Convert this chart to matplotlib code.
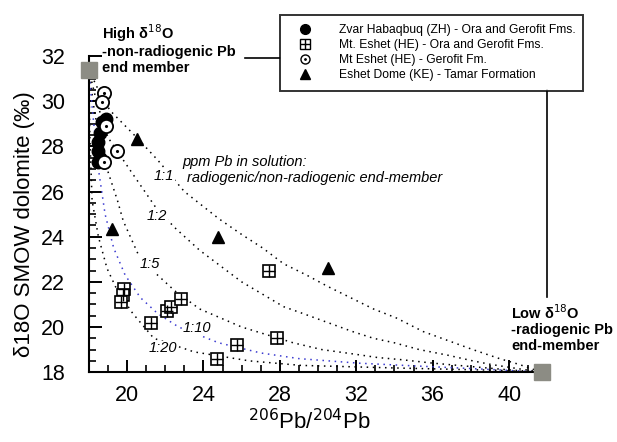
import numpy as np
import matplotlib
matplotlib.use('Agg')
import matplotlib.pyplot as plt
from matplotlib.lines import Line2D
from matplotlib.ticker import MultipleLocator

plt.rcParams['font.family'] = ['Liberation Sans', 'DejaVu Sans']

# samples: (206Pb/204Pb, d18O)
zh_x = [18.9, 18.7, 18.6, 18.5, 18.5, 18.6, 18.5]
zh_y = [29.2, 29.1, 28.6, 28.2, 27.8, 27.5, 27.3]

he_ora_x = [19.85, 19.8, 19.7, 21.25, 22.1, 22.3, 22.8, 24.7, 25.75, 27.45, 27.85]
he_ora_y = [21.7, 21.4, 21.1, 20.2, 20.7, 20.9, 21.25, 18.6, 19.2, 22.5, 19.5]

he_ger_x = [18.8, 18.7, 18.9, 19.5, 18.8]
he_ger_y = [30.35, 29.95, 28.9, 27.8, 27.3]

ke_x = [20.5, 19.2, 24.75, 30.5]
ke_y = [28.35, 24.35, 24.0, 22.6]

# end members
end_x = [18.0, 41.7]
end_y = [31.4, 18.0]

# mixing curves
c11_x = [18.0, 18.5, 19.1, 20.5, 21.6, 23.0, 24.8, 26.0, 27.1, 28.2, 29.4, 30.5, 31.7,
         32.9, 34.1, 35.5, 36.8, 38.1, 39.5, 40.5, 41.7]
c11_y = [31.4, 30.5, 29.6, 28.4, 27.4, 26.0, 24.8, 24.1, 23.5, 22.8, 22.3, 21.8, 21.3,
         20.8, 20.4, 19.8, 19.4, 19.0, 18.6, 18.35, 18.0]

c12_x = [18.0, 18.4, 19.0, 20.2, 21.5, 22.5, 23.8, 26.0, 27.0, 28.2, 29.2, 30.5, 31.8,
         32.9, 34.0, 35.3, 36.8, 38.1, 39.0, 40.5, 41.7]
c12_y = [31.4, 30.0, 28.4, 26.9, 25.3, 24.4, 23.4, 22.0, 21.5, 20.9, 20.6, 20.2, 19.8,
         19.5, 19.3, 19.0, 18.75, 18.5, 18.35, 18.15, 18.0]

c15_x = [18.0, 18.3, 18.8, 19.5, 19.8, 20.7, 21.6, 22.5, 23.8, 26.0, 28.7, 30.2, 31.9,
         33.1, 34.4, 36.0, 38.0, 40.0, 41.7]
c15_y = [31.4, 29.5, 27.4, 25.6, 24.7, 23.0, 22.3, 21.6, 20.8, 20.0, 19.3, 19.0, 18.8,
         18.65, 18.55, 18.4, 18.25, 18.1, 18.0]

c110_x = [18.0, 18.2, 18.5, 18.85, 19.3, 19.9, 20.7, 21.6, 22.7, 24.8, 27.0, 29.0, 32.1,
          34.5, 37.0, 39.5, 41.7]
c110_y = [31.4, 29.5, 27.0, 25.0, 23.5, 22.3, 21.3, 20.6, 20.0, 19.3, 18.85, 18.6, 18.4,
          18.3, 18.2, 18.1, 18.0]

c120_x = [18.0, 18.05, 18.17, 18.5, 18.95, 19.5, 20.3, 21.4, 23.5, 26.4, 29.1, 34.3,
          39.5, 41.7]
c120_y = [31.4, 28.5, 25.6, 24.0, 22.6, 21.6, 20.6, 19.5, 18.9, 18.5, 18.3, 18.18,
          18.08, 18.0]

fig = plt.figure(figsize=(6.17, 4.42), dpi=100)
ax = fig.add_axes([0.144, 0.158, 0.743, 0.715])

for cx, cy, col in [(c11_x, c11_y, 'k'), (c12_x, c12_y, 'k'), (c15_x, c15_y, 'k'),
                    (c110_x, c110_y, '#3a3ad0'), (c120_x, c120_y, 'k')]:
    ax.plot(cx, cy, ls=(0, (1, 3)), color=col, lw=1.1, zorder=2)

ax.plot(zh_x, zh_y, 'o', ms=9, mfc='k', mec='k', ls='none', zorder=4)
ax.plot(he_ora_x, he_ora_y, 's', ms=9, mfc='white', mec='k', mew=1.2, ls='none', zorder=4)
ax.plot(he_ora_x, he_ora_y, '+', ms=9, mec='k', mew=1.0, ls='none', zorder=5)
ax.plot(he_ger_x, he_ger_y, 'o', ms=9.5, mfc='white', mec='k', mew=1.3, ls='none', zorder=5)
ax.plot(he_ger_x, he_ger_y, '.', ms=2.5, color='k', ls='none', zorder=6)
ax.plot(ke_x, ke_y, '^', ms=8, color='k', ls='none', zorder=4)
ax.plot(end_x, end_y, 's', ms=11, color='#8c8c84', mec='#8c8c84', ls='none',
        clip_on=False, zorder=7)

ax.set_xlim(18, 42)
ax.set_ylim(18, 32)
ax.xaxis.set_minor_locator(MultipleLocator(1))
ax.yaxis.set_major_locator(MultipleLocator(2))
ax.yaxis.set_minor_locator(MultipleLocator(0.5))
ax.set_xticks([20, 24, 28, 32, 36, 40])
ax.tick_params(which='major', direction='in', length=9, width=1.4, labelsize=15.5)
ax.tick_params(axis='x', which='major', pad=9)
ax.tick_params(axis='y', which='major', pad=17)
ax.tick_params(which='minor', direction='in', length=5, width=1.2)
ax.spines['top'].set_visible(False)
ax.spines['right'].set_visible(False)
ax.spines['left'].set_linewidth(1.5)
ax.spines['bottom'].set_linewidth(1.5)

ax.set_xlabel(r'$^{206}$Pb/$^{204}$Pb', fontsize=16)
ax.xaxis.set_label_coords(0.48, -0.115)
ax.set_ylabel('δ18O SMOW dolomite (‰)', fontsize=16)
ax.yaxis.set_label_coords(-0.118, 0.47)

# ratio labels
for txt, tx, ty in [('1:1', 21.95, 26.7), ('1:2', 21.55, 24.9), ('1:5', 21.2, 22.8),
                    ('1:10', 23.65, 19.95), ('1:20', 21.9, 19.05)]:
    ax.text(tx, ty, txt, style='italic', fontsize=10.5, ha='center', va='center',
            zorder=8, bbox=dict(fc='white', ec='none', pad=0.5))

ax.text(22.88, 27.29, 'ppm Pb in solution:', style='italic', fontsize=10.5,
        ha='left', va='center')
ax.text(23.14, 26.58, 'radiogenic/non-radiogenic end-member', style='italic',
        fontsize=10.5, ha='left', va='center', bbox=dict(fc='white', ec='none', pad=0.5))

fig.text(102 / 617, 1 - 22 / 442, 'High δ$^{18}$O\n-non-radiogenic Pb\nend member',
         fontsize=10.5, fontweight='bold', ha='left', va='top', linespacing=1.15)
fig.text(511 / 617, 1 - 303 / 442, 'Low δ$^{18}$O\n-radiogenic Pb\nend-member',
         fontsize=10.5, fontweight='bold', ha='left', va='top', linespacing=1.15)

# leader lines
fig.add_artist(Line2D([245 / 617, 280 / 617], [1 - 58 / 442, 1 - 58 / 442],
                      color='k', lw=1.2))
fig.add_artist(Line2D([547 / 617, 547 / 617], [1 - 90 / 442, 1 - 297 / 442],
                      color='k', lw=1.2))

h_sq = (Line2D([], [], marker='s', ms=6.5, mfc='white', mec='k', ls='none'),
        Line2D([], [], marker='+', ms=6.5, mec='k', ls='none'))
h_oc = (Line2D([], [], marker='o', ms=6.5, mfc='white', mec='k', ls='none'),
        Line2D([], [], marker='.', ms=2, color='k', ls='none'))
handles = [
    Line2D([], [], marker='o', ms=7, mfc='k', mec='k', ls='none'),
    h_sq,
    h_oc,
    Line2D([], [], marker='^', ms=6.5, color='k', ls='none'),
]
labels = ['Zvar Habaqbuq (ZH) - Ora and Gerofit Fms.',
          'Mt. Eshet (HE) - Ora and Gerofit Fms.',
          'Mt Eshet (HE) - Gerofit Fm.',
          'Eshet Dome (KE) - Tamar Formation']
leg = fig.legend(handles, labels, loc='upper left',
                 bbox_to_anchor=(280 / 617, 1 - 15 / 442, 303 / 617, 0.0),
                 mode='expand', fontsize=8.7, frameon=True, fancybox=False,
                 edgecolor='k', handlelength=2.6, handletextpad=1.5,
                 labelspacing=0.26, borderpad=0.75, borderaxespad=0.0)
leg.get_frame().set_linewidth(1.4)

fig.savefig('out.png', dpi=100)
